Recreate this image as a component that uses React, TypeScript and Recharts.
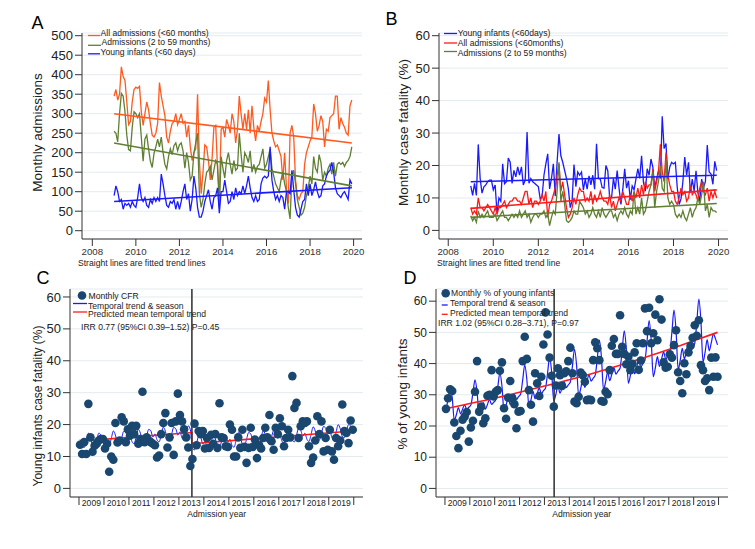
import React from "react";
import {
  LineChart,
  ComposedChart,
  Line,
  Scatter,
  XAxis,
  YAxis,
  CartesianGrid,
  ReferenceLine,
} from "recharts";

const FONT = '"Liberation Sans", Arial, Helvetica, sans-serif';
const ORANGE = "#ff5a1f";
const GREEN = "#5f7f33";
const BLUE = "#1a1aff";
const RED = "#ff1a1a";
const NAVY = "#1a476f";
const GRID = "#e3ebef";
const AXIS = "#333";

// monthly series, Jan 2009 .. Dec 2019
const A_ALL = [
  345, 362, 335, 350, 420, 395, 385, 330, 272, 280, 330, 362,
  368, 365, 370, 305, 270, 300, 330, 310, 275, 245, 240, 250,
  275, 380, 345, 320, 295, 240, 225, 255, 275, 280, 300, 272,
  285, 300, 275, 280, 240, 270, 215, 180, 200, 210, 350, 180,
  95, 150, 220, 215, 180, 130, 185, 265, 270, 160, 90, 260,
  265, 240, 285, 270, 250, 300, 280, 225, 260, 345, 300, 260,
  300, 260, 310, 250, 320, 265, 230, 270, 255, 280, 300, 340,
  330, 385, 310, 250, 230, 215, 220, 205, 190, 130, 200, 110,
  70, 250, 270, 240, 130, 90, 80, 95, 100, 170, 200, 215,
  230, 240, 325, 300, 255, 270, 295, 280, 215, 260, 255, 290,
  295, 300, 345, 345, 260, 290, 275, 265, 250, 245, 320, 335,
];
const A_OLDER = [
  255, 250, 228, 300, 352, 345, 305, 245, 208, 205, 265, 305,
  300, 290, 300, 240, 178, 235, 245, 210, 178, 162, 198, 215,
  235, 215, 240, 200, 170, 158, 190, 210, 195, 218, 225, 205,
  220, 225, 205, 160, 200, 175, 130, 140, 200, 225, 250, 95,
  60, 80, 120, 150, 155, 165, 130, 155, 180, 170, 60, 190,
  160, 135, 180, 200, 170, 145, 180, 155, 160, 250, 195, 150,
  200, 190, 175, 205, 150, 170, 150, 165, 170, 190, 210, 160,
  170, 190, 210, 160, 140, 120, 110, 100, 130, 150, 120, 100,
  60, 30, 140, 155, 120, 80, 60, 40, 45, 60, 90, 110,
  140, 120, 190, 160, 150, 195, 175, 130, 150, 140, 160, 170,
  145, 175, 140, 170, 175, 170, 175, 165, 175, 180, 190, 215,
];
const A_INFANT = [
  90, 115, 100, 75, 80, 55, 70, 65, 70, 60, 75, 65,
  60, 85, 120, 85, 75, 85, 65, 60, 80, 70, 85, 75,
  85, 75, 145, 120, 90, 65, 60, 75, 70, 80, 55, 75,
  55, 75, 100, 120, 80, 95, 50, 80, 140, 110, 60, 35,
  35, 50, 75, 90, 105, 75, 55, 85, 90, 110, 45, 100,
  100, 130, 100, 70, 75, 100, 80, 110, 90, 100, 95, 115,
  95, 115, 140, 110, 85, 75, 90, 75, 80, 120, 135, 140,
  135, 140, 215, 130, 100, 80, 90, 75, 90, 85, 55, 100,
  100, 95, 155, 105, 60, 40, 35, 55, 75, 80, 120, 90,
  120, 90, 105, 125, 100, 85, 90, 115, 120, 140, 150, 155,
  175, 150, 110, 95, 90, 85, 95, 100, 90, 80, 130, 120,
];

// case fatality (%)
const INFANT_CFR = [
  13.7, 10.8, 14.5, 10.8, 26.5, 16, 11.5, 13.4, 14, 15, 15.5, 15.5,
  12.5, 14, 5.2, 10, 9, 20.5, 14.4, 15, 22.3, 21, 14.5, 18.5,
  16.5, 19.6, 17, 19.6, 14, 15.5, 30.3, 14.5, 16, 15, 14.5, 14,
  13.5, 9.7, 10.3, 17, 20.5, 23.6, 12.8, 16, 20.5, 10.5, 21, 29.7,
  23, 21, 18.5, 16, 12.8, 7, 9.2, 20.3, 13.5, 18, 17, 18,
  12.5, 15.8, 12.7, 16.8, 14, 17, 12.7, 26.7, 16, 15.8, 13.2, 13,
  20, 18.4, 10, 10, 16, 12.7, 18.4, 13, 8, 12.7, 19, 13,
  15.3, 9.5, 13.7, 12.5, 15.8, 19, 16, 23, 14.8, 12.1, 19, 17,
  22, 19.5, 13.2, 15.8, 18.4, 16, 35.2, 25.2, 26.8, 15.8, 19.5, 21,
  20.5, 21, 13.2, 8, 9.7, 15, 22.6, 17, 21, 11.6, 15.8, 12.1,
  18.4, 11.6, 9, 15.8, 13.2, 15, 26.3, 18, 17.4, 14.2, 21.3, 18.4,
];
const ALL_CFR = [
  7, 5, 6, 5, 10, 7, 7, 6, 7, 8, 7, 6,
  5, 7, 5, 7, 7, 8, 9, 7, 8, 9, 9, 10,
  10, 9, 9, 8, 10, 12, 12, 8, 10, 7, 9, 9,
  8, 9, 11, 9, 12, 4, 8, 9, 11, 13, 17, 20.5,
  12, 15, 11, 7, 4, 5, 7, 10, 8, 11, 13, 12,
  12, 9, 10, 9, 12, 8, 11, 9, 10, 12, 10, 9,
  9, 8, 11, 7, 9, 6, 8, 10, 9, 12, 10, 8,
  8, 11, 9, 12, 10, 13, 10, 14, 11, 15, 13, 14,
  14, 19, 12, 15, 18, 26.5, 18, 15, 24, 17, 14, 12,
  12, 9, 8, 10, 13, 11, 12, 9, 10, 14, 11, 12,
  11, 9, 13, 15, 12, 11, 13, 9, 12, 10, 12, 10,
];
const OLDER_CFR = [
  4.5, 3, 4, 2.5, 6, 4, 5, 4, 5, 6, 4, 4,
  4, 5, 3, 4, 5, 6, 4, 4, 3, 4, 5, 4,
  5, 4, 6, 4, 5, 6, 4, 5, 2.5, 4, 5, 5,
  4, 5, 5, 6, 4, 5, 1.5, 4, 6, 5, 12, 21,
  9, 12, 8, 3, 2.5, 3, 4, 6, 5, 5, 9, 8,
  7, 5, 6, 4, 5, 7, 5, 4, 6, 4, 7, 5,
  4, 5, 6, 6, 4, 5, 3, 5, 6, 5, 7, 5,
  4, 6, 5, 12, 5, 7, 5, 10, 5, 6, 9, 12,
  14, 18, 7, 12, 15, 20, 13, 12, 22, 10, 8, 9,
  8, 5, 4, 5, 4, 6, 4, 3, 5, 7, 4, 6,
  7, 10, 8, 11, 15, 6, 8, 4, 7, 6, 6, 5.5,
];

// fitted straight trend lines: start 2009, end late 2019
const TREND_X = [2009, 2019.92];
const TREND_A_ALL = [300, 225];
const TREND_A_OLDER = [225, 115];
const TREND_A_INFANT = [75, 110];
const TREND_B_INFANT = [15, 17];
const TREND_B_ALL = [6.8, 12.5];
const TREND_B_OLDER = [4, 8.3];

// panel C model lines
const C_SEASON = [
  15.3, 13.4, 12.8, 15.0, 17.3, 16.1, 13.6, 13.2, 15.2, 17.3, 16.8, 14.9,
  16.0, 14.1, 13.4, 15.6, 18.0, 16.7, 14.2, 13.8, 15.8, 17.9, 17.5, 15.5,
  16.5, 14.6, 14.0, 16.2, 18.5, 17.3, 14.8, 14.4, 16.4, 18.5, 18.1, 16.1,
  17.1, 15.2, 14.6, 16.8, 19.2, 17.9, 15.4, 15.0, 17.0, 19.1, 18.7, 16.7,
  17.7, 15.8, 15.1, 17.3, 19.6, 18.4, 12.5, 12.1, 14.2, 16.3, 15.9, 13.9,
  14.8, 12.9, 12.2, 14.5, 16.9, 15.6, 13.2, 12.8, 14.8, 16.9, 16.5, 14.5,
  15.4, 13.5, 12.9, 15.1, 17.5, 16.2, 13.8, 13.4, 15.4, 17.5, 17.1, 15.1,
  16.1, 14.1, 13.5, 15.7, 18.1, 16.8, 14.4, 14.0, 16.1, 18.1, 17.7, 15.7,
  16.7, 14.8, 14.1, 16.3, 18.7, 17.4, 15.0, 14.6, 16.7, 18.8, 18.3, 16.3,
  17.3, 15.4, 14.7, 16.9, 19.3, 18.0, 15.6, 15.2, 17.3, 19.4, 18.9, 16.9,
  17.9, 16.0, 15.3, 17.5, 20.0, 18.7, 16.3, 15.9, 17.9, 20.0, 19.6, 17.6,
];
const C_TREND_X = [2009.04, 2013.52, 2013.52, 2019.96];
const C_TREND = [14.8, 17.5, 14.0, 18.0];
const C_BREAK = 2013.52;

// panel D: % of admissions that are young infants
const D_PCT = [
  25.5, 28.9, 31.8, 31.2, 21.1, 16.8, 12.9, 18.5, 22.0, 23.0, 24.5, 15.0,
  19.5, 21.7, 31.0, 40.8, 24.6, 26.2, 20.9, 22.5, 29.7, 30.0, 37.9, 29.5,
  31.0, 31.5, 37.7, 40.4, 25.7, 22.3, 29.1, 34.4, 28.9, 27.0, 19.3, 24.6,
  24.8, 40.8, 48.6, 41.5, 31.5, 26.8, 21.4, 36.9, 33.7, 29.6, 35.8, 46.1,
  56.4, 49.3, 41.9, 36.1, 26.2, 33.0, 38.5, 36.3, 32.8, 36.9, 37.5, 40.8,
  45.1, 36.9, 27.8, 27.3, 29.4, 37.1, 36.3, 34.2, 28.3, 28.5, 28.3, 41.1,
  46.8, 44.9, 41.1, 28.0, 27.8, 31.0, 30.2, 37.9, 45.7, 47.9, 43.1, 43.1,
  55.5, 45.4, 43.1, 39.8, 42.2, 37.9, 39.9, 43.6, 46.5, 38.0, 41.0, 46.5,
  57.7, 50.4, 57.9, 46.5, 49.7, 55.7, 47.5, 60.6, 54.1, 40.4, 38.7, 39.0,
  43.0, 41.9, 45.9, 50.7, 37.2, 34.4, 30.5, 40.1, 36.6, 43.6, 45.7, 48.3,
  52.3, 48.9, 53.9, 39.5, 37.9, 34.4, 35.3, 31.5, 41.9, 35.8, 42.0, 35.8,
];
const D_SEASON = [
  25.0, 28.7, 32.6, 29.1, 21.9, 23.6, 25.9, 23.9, 25.4, 26.8, 25.3, 26.0,
  26.7, 30.6, 34.8, 30.9, 23.3, 25.1, 27.5, 25.4, 26.9, 28.5, 26.9, 27.6,
  28.3, 32.5, 37.0, 32.8, 24.7, 26.6, 29.1, 26.9, 28.5, 30.2, 28.5, 29.4,
  30.2, 34.7, 39.5, 35.0, 26.3, 28.4, 31.1, 28.7, 30.4, 32.2, 30.4, 31.3,
  32.1, 36.9, 42.0, 37.1, 28.0, 30.1, 33.0, 30.5, 32.3, 34.2, 32.3, 33.2,
  34.1, 39.2, 44.6, 39.5, 29.7, 32.0, 35.1, 32.4, 34.4, 36.4, 34.4, 35.3,
  36.3, 41.7, 47.5, 42.0, 31.6, 34.1, 37.3, 34.5, 36.6, 38.7, 36.6, 37.6,
  38.6, 44.3, 50.5, 44.7, 33.7, 36.3, 39.7, 36.7, 38.9, 41.2, 38.9, 40.0,
  41.1, 47.2, 53.8, 47.6, 35.8, 38.6, 42.2, 39.1, 41.4, 43.8, 41.4, 42.5,
  43.6, 50.1, 57.1, 50.5, 38.1, 41.0, 44.9, 41.5, 44.0, 46.5, 44.0, 45.2,
  46.4, 53.2, 60.7, 53.6, 40.5, 43.6, 47.7, 44.1, 46.7, 49.5, 48.0, 46.0,
];
const D_TREND_X = [2009, 2010, 2011, 2012, 2013, 2014, 2015, 2016, 2017, 2018, 2019, 2019.96];
const D_TREND = [25.5, 27.2, 28.9, 30.8, 32.8, 34.8, 37.0, 39.4, 41.9, 44.5, 47.3, 50.0];
const D_BREAK = 2013.39;

const YEAR_TICKS_AB = [2008, 2010, 2012, 2014, 2016, 2018, 2020];
const YEAR_EDGES = [2009, 2010, 2011, 2012, 2013, 2014, 2015, 2016, 2017, 2018, 2019, 2020];
const A_TICKS = [0, 50, 100, 150, 200, 250, 300, 350, 400, 450, 500];
const PCT_TICKS = [0, 10, 20, 30, 40, 50, 60];

const monthly = (vals: number[], mid = 0) =>
  vals.map((y, i) => ({ x: 2009 + (i + mid) / 12, y }));
const pairs = (xs: number[], ys: number[]) => xs.map((x, i) => ({ x, y: ys[i] }));

const YearLabel = (props: any) => {
  const { x, y, payload } = props;
  if (payload.value >= 2020) return <g />;
  return (
    <text x={x + 12.4} y={y - 7} dy="0.71em" textAnchor="middle" fontSize={8.6} fill="#222" fontFamily={FONT}>
      {payload.value}
    </text>
  );
};

const Dot = (props: any) => <circle cx={props.cx} cy={props.cy} r={4.3} fill={NAVY} />;

const abs = (left: number, top: number): React.CSSProperties => ({ position: "absolute", left, top });

function PanelA() {
  return (
    <div style={abs(0, 0)}>
      <LineChart width={370} height={272} margin={{ top: 33, right: 8, bottom: 0, left: 0 }}>
        <CartesianGrid horizontal vertical={false} stroke={GRID} />
        <XAxis type="number" dataKey="x" domain={[2007.526, 2020.386]} ticks={YEAR_TICKS_AB} height={33} interval={0}
          allowDataOverflow stroke={AXIS} tickSize={7} tick={{ fontSize: 9.7, fill: "#333", fontFamily: FONT }} />
        <YAxis type="number" domain={[-21.3, 506.9]} ticks={A_TICKS} width={82} allowDataOverflow interval={0}
          stroke={AXIS} tickSize={7} tickMargin={2} tick={{ fontSize: 13, fill: "#222", fontFamily: FONT }} />
        <Line data={monthly(A_ALL)} dataKey="y" stroke={ORANGE} strokeWidth={1.3} dot={false} isAnimationActive={false} />
        <Line data={monthly(A_OLDER)} dataKey="y" stroke={GREEN} strokeWidth={1.3} dot={false} isAnimationActive={false} />
        <Line data={monthly(A_INFANT)} dataKey="y" stroke={BLUE} strokeWidth={1.3} dot={false} isAnimationActive={false} />
        <Line data={pairs(TREND_X, TREND_A_ALL)} dataKey="y" stroke={ORANGE} strokeWidth={1.6} dot={false} isAnimationActive={false} />
        <Line data={pairs(TREND_X, TREND_A_OLDER)} dataKey="y" stroke={GREEN} strokeWidth={1.6} dot={false} isAnimationActive={false} />
        <Line data={pairs(TREND_X, TREND_A_INFANT)} dataKey="y" stroke={BLUE} strokeWidth={1.6} dot={false} isAnimationActive={false} />
      </LineChart>
    </div>
  );
}

function PanelB() {
  return (
    <div style={abs(375, 0)}>
      <LineChart width={360} height={272} margin={{ top: 33, right: 7, bottom: 0, left: 0 }}>
        <CartesianGrid horizontal vertical={false} stroke={GRID} />
        <XAxis type="number" dataKey="x" domain={[2007.59, 2020.42]} ticks={YEAR_TICKS_AB} height={33} interval={0}
          allowDataOverflow stroke={AXIS} tickSize={7} tick={{ fontSize: 9.7, fill: "#333", fontFamily: FONT }} />
        <YAxis type="number" domain={[-2.65, 60.83]} ticks={PCT_TICKS} width={64} allowDataOverflow interval={0}
          stroke={AXIS} tickSize={7} tickMargin={2} tick={{ fontSize: 13, fill: "#222", fontFamily: FONT }} />
        <Line data={monthly(INFANT_CFR)} dataKey="y" stroke={BLUE} strokeWidth={1.3} dot={false} isAnimationActive={false} />
        <Line data={monthly(ALL_CFR)} dataKey="y" stroke={RED} strokeWidth={1.3} dot={false} isAnimationActive={false} />
        <Line data={monthly(OLDER_CFR)} dataKey="y" stroke={GREEN} strokeWidth={1.3} dot={false} isAnimationActive={false} />
        <Line data={pairs(TREND_X, TREND_B_INFANT)} dataKey="y" stroke={BLUE} strokeWidth={1.6} dot={false} isAnimationActive={false} />
        <Line data={pairs(TREND_X, TREND_B_ALL)} dataKey="y" stroke={RED} strokeWidth={1.6} dot={false} isAnimationActive={false} />
        <Line data={pairs(TREND_X, TREND_B_OLDER)} dataKey="y" stroke={GREEN} strokeWidth={1.6} dot={false} isAnimationActive={false} />
      </LineChart>
    </div>
  );
}

function PanelC() {
  return (
    <div style={abs(0, 270)}>
      <ComposedChart width={370} height={270} margin={{ top: 19, right: 7, bottom: 0, left: 0 }}>
        <CartesianGrid horizontal vertical={false} stroke={GRID} />
        <XAxis type="number" dataKey="x" domain={[2008.64, 2020.37]} ticks={YEAR_EDGES} height={43} interval={0}
          allowDataOverflow stroke={AXIS} tickSize={8} tick={<YearLabel />} />
        <YAxis type="number" domain={[-2.7, 62.5]} ticks={PCT_TICKS} width={70} allowDataOverflow interval={0}
          stroke={AXIS} tickSize={7} tickMargin={2} tick={{ fontSize: 13, fill: "#222", fontFamily: FONT }} />
        <Scatter data={monthly(INFANT_CFR, 0.5)} dataKey="y" shape={<Dot />} isAnimationActive={false} />
        <Line data={monthly(C_SEASON, 0.5)} dataKey="y" type="monotone" stroke={BLUE} strokeWidth={1} dot={false} isAnimationActive={false} />
        <Line data={pairs(C_TREND_X, C_TREND)} dataKey="y" stroke={RED} strokeWidth={1.6} dot={false} isAnimationActive={false} />
        <ReferenceLine x={C_BREAK} stroke="#3a3a3a" strokeWidth={1.6} />
      </ComposedChart>
    </div>
  );
}

function PanelD() {
  return (
    <div style={abs(375, 270)}>
      <ComposedChart width={360} height={270} margin={{ top: 19, right: 7, bottom: 0, left: 0 }}>
        <CartesianGrid horizontal vertical={false} stroke={GRID} />
        <XAxis type="number" dataKey="x" domain={[2008.64, 2020.38]} ticks={YEAR_EDGES} height={43} interval={0}
          allowDataOverflow stroke={AXIS} tickSize={8} tick={<YearLabel />} />
        <YAxis type="number" domain={[-2.75, 63.9]} ticks={PCT_TICKS} width={61} allowDataOverflow interval={0}
          stroke={AXIS} tickSize={7} tickMargin={2} tick={{ fontSize: 12, fill: "#222", fontFamily: FONT }} />
        <Scatter data={monthly(D_PCT, 0.5)} dataKey="y" shape={<Dot />} isAnimationActive={false} />
        <Line data={monthly(D_SEASON, 0.5)} dataKey="y" type="monotone" stroke={BLUE} strokeWidth={1.2} dot={false} isAnimationActive={false} />
        <Line data={pairs(D_TREND_X, D_TREND)} dataKey="y" type="monotone" stroke={RED} strokeWidth={1.6} dot={false} isAnimationActive={false} />
        <ReferenceLine x={D_BREAK} stroke="#3a3a3a" strokeWidth={1.6} />
      </ComposedChart>
    </div>
  );
}

const T = (p: any) => (
  <text fontFamily={FONT} fill="#222" dominantBaseline="central" fontSize={8.6} {...p} />
);
const Key = ({ x1, x2, y, c }: any) => <line x1={x1} x2={x2} y1={y} y2={y} stroke={c} strokeWidth={1.3} />;

function Overlay() {
  return (
    <svg width={755} height={549} style={{ position: "absolute", left: 0, top: 0, pointerEvents: "none" }}>
      <T x={37.5} y={23} fontSize={18} textAnchor="middle" fill="#000">A</T>
      <T x={391.5} y={18.5} fontSize={18} textAnchor="middle" fill="#000">B</T>
      <T x={43} y={278} fontSize={18} textAnchor="middle" fill="#000">C</T>
      <T x={410} y={278} fontSize={18} textAnchor="middle" fill="#000">D</T>

      <T x={37} y={132.5} fontSize={13.5} textAnchor="middle" transform="rotate(-90 37 132.5)">Monthly admissions</T>
      <T x={403.3} y={132.5} fontSize={13.5} textAnchor="middle" transform="rotate(-90 403.3 132.5)">Monthly case fatality (%)</T>
      <T x={37.5} y={406} fontSize={12} textAnchor="middle" transform="rotate(-90 37.5 406)">Young infants case fatality (%)</T>
      <T x={402.5} y={394} fontSize={13.5} textAnchor="middle" transform="rotate(-90 402.5 394)">% of young infants</T>

      <T x={78} y={263}>Straight lines are fitted trend lines</T>
      <T x={437} y={263}>Straight lines are fitted trend line</T>
      <T x={216.7} y={514} textAnchor="middle">Admission year</T>
      <T x={581.7} y={514} textAnchor="middle">Admission year</T>

      <Key x1={88} x2={100} y={35.5} c={ORANGE} />
      <T x={100.5} y={32.5}>All admissions (&lt;60 months)</T>
      <Key x1={88} x2={101} y={45.3} c={GREEN} />
      <T x={101.5} y={42.3}>Admissions (2 to 59 months)</T>
      <Key x1={88} x2={100} y={53.8} c={BLUE} />
      <T x={100.5} y={52.3}>Young infants (&lt;60 days)</T>

      <Key x1={444} x2={457} y={33.5} c={BLUE} />
      <T x={457.7} y={33.3}>Young infants (&lt;60days)</T>
      <Key x1={444} x2={457} y={43} c={RED} />
      <T x={457.7} y={43.3}>All admissions (&lt;60months)</T>
      <Key x1={444} x2={457} y={51.5} c={GREEN} />
      <T x={457.7} y={53}>Admissions (2 to 59 months)</T>

      <circle cx={82} cy={295.5} r={4.3} fill={NAVY} />
      <T x={88.5} y={296}>Monthly CFR</T>
      <Key x1={73} x2={87} y={303.5} c={BLUE} />
      <T x={88} y={305.5}>Temporal trend &amp; season</T>
      <Key x1={73} x2={87} y={312} c={RED} />
      <T x={88} y={314}>Predicted mean temporal trend</T>
      <T x={81} y={327}>IRR 0.77 (95%CI 0.39–1.52) P=0.45</T>

      <circle cx={445.7} cy={293.3} r={4.3} fill={NAVY} />
      <T x={451} y={293.3}>Monthly % of young infants</T>
      <Key x1={441.7} x2={447.7} y={305} c={BLUE} />
      <T x={450} y={303}>Temporal trend &amp; season</T>
      <Key x1={441.7} x2={447.7} y={314.3} c={RED} />
      <T x={450} y={312.7}>Predicted mean temporal trend</T>
      <T x={438} y={323.3}>IRR 1.02 (95%CI 0.28–3.71), P=0.97</T>
    </svg>
  );
}

export default function App() {
  return (
    <div style={{ position: "fixed", left: 0, top: 0, width: 755, height: 549, background: "#fff", overflow: "hidden", fontFamily: FONT }}>
      <PanelA />
      <PanelB />
      <PanelC />
      <PanelD />
      <Overlay />
    </div>
  );
}
